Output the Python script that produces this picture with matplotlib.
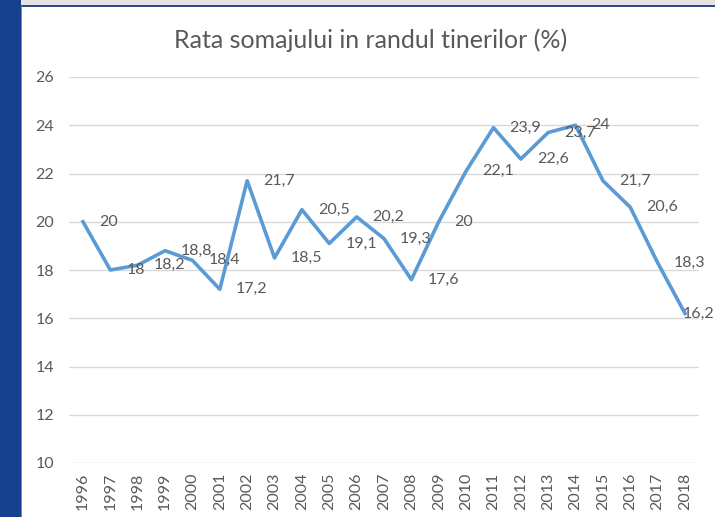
import matplotlib
matplotlib.use("Agg")
import matplotlib.pyplot as plt
from matplotlib.patches import Rectangle

years = [str(y) for y in range(1996, 2019)]
values = [20, 18, 18.2, 18.8, 18.4, 17.2, 21.7, 18.5, 20.5, 19.1, 20.2, 19.3,
          17.6, 20, 22.1, 23.9, 22.6, 23.7, 24, 21.7, 20.6, 18.3, 16.2]
labels = [f"{v:g}".replace(".", ",") for v in values]
yticks = [10, 12, 14, 16, 18, 20, 22, 24, 26]
title = "Rata somajului in randul tinerilor (%)"

W, H = 715, 517
plt.rcParams['font.family'] = ['Lato', 'DejaVu Sans']
fig = plt.figure(figsize=(W / 100, H / 100), dpi=100)
fig.patch.set_facecolor("white")

def px(x0, y0, w, h, color):
    fig.patches.append(Rectangle((x0 / W, 1 - (y0 + h) / H), w / W, h / H,
                                 transform=fig.transFigure, color=color, zorder=0, lw=0))

px(0, 0, W, 5, "#E4E4E4")
px(0, 5, W, 1.5, "#2E4A8C")
px(0, 0, 21, H, "#17408F")
px(21, 6, 1.2, H, "#6F8CC4")

textc = "#595959"
ax = fig.add_axes([69.3 / W, 1 - 463 / H, (698.7 - 69.3) / W, (463 - 77) / H])
ax.set_facecolor("none")
x = list(range(len(years)))
ax.plot(x, values, color="#5B9BD5", lw=2.6, solid_joinstyle="round", zorder=3)
ax.set_xlim(-0.5, len(years) - 0.5)
ax.set_ylim(10, 26)
ax.set_yticks(yticks)
ax.set_yticklabels([str(t) for t in yticks])
ax.set_xticks(x)
ax.set_xticklabels(years, rotation=90)
ax.grid(axis="y", color="#D9D9D9", lw=1.0)
ax.set_axisbelow(True)
for s in ax.spines.values():
    s.set_visible(False)
ax.tick_params(axis="both", length=0, colors=textc, labelsize=11.5)
ax.tick_params(axis="y", pad=11)
ax.tick_params(axis="x", pad=7)

n = len(values)
for i, (v, lab) in enumerate(zip(values, labels)):
    off = 11.5 if i < n - 1 else -1.5
    ax.annotate(lab, (i, v), xytext=(off, 0), textcoords="offset points",
                ha="left", va="center", color=textc, fontsize=11.5,
                annotation_clip=False, zorder=4)

fig.text(371 / W, 1 - 40 / H, title, ha="center", va="center", color=textc, fontsize=18)

fig.savefig("out.png", dpi=100)
